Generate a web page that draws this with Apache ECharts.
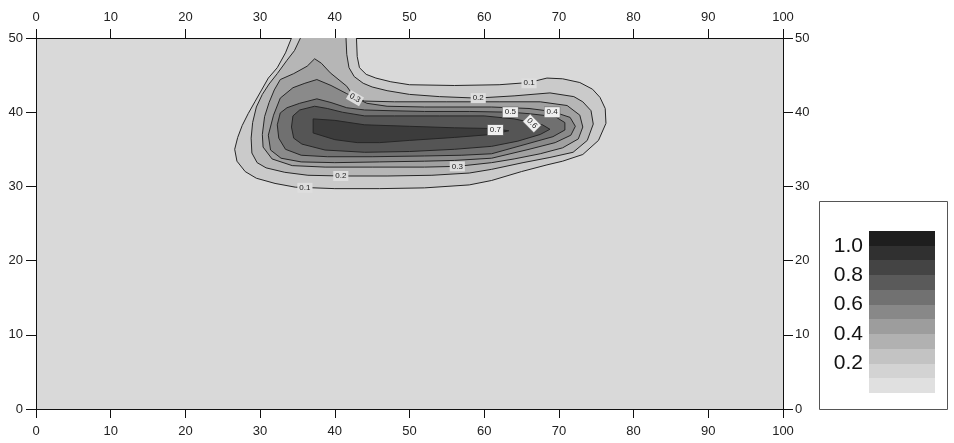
<!DOCTYPE html>
<html><head><meta charset="utf-8">
<script src="https://cdn.jsdelivr.net/npm/echarts@6/dist/echarts.min.js"></script>
<style>html,body{margin:0;padding:0;background:#fff}#c{width:954px;height:443px}</style>
</head><body><div id="c"></div>
<script>
// ---------- data ----------
const xTicks = [0,10,20,30,40,50,60,70,80,90,100];
const yTicks = [0,10,20,30,40,50];
const contourLevels = [0.1,0.2,0.3,0.4,0.5,0.6,0.7];

const contour01 = [[34.2,50],[33.4,48],[32.3,46],[31.1,44.6],[30.2,43],[29.3,41.4],[28.4,39.8],[27.6,38.2],[27.0,36.6],[26.6,35.0],[26.9,33.4],[28.0,32.0],[29.5,31.1],[32,30.4],[34.7,29.9],[40,29.7],[46,29.7],[52,29.8],[58,30.2],[61,30.8],[65,32.0],[68.4,32.9],[70.5,33.4],[73.2,34.3],[75.3,36.2],[76.3,38.5],[76.2,40.5],[75.5,42],[74.5,43.1],[72.8,44.0],[70.5,44.5],[68.4,44.6],[66,44.0],[62,43.7],[56,43.6],[50,43.7],[47.5,44.1],[45.5,44.6],[44.2,45.1],[43.3,46.0],[43.0,47.5],[42.9,50]];
const contour02 = [[35.4,50],[34.6,48.3],[33.6,47],[32.3,45.2],[31.2,43.8],[30.3,42.4],[29.5,40.7],[29.0,38.6],[28.8,36.5],[28.9,34.5],[29.6,33.2],[30.8,32.5],[33.3,31.9],[36.4,31.5],[41,31.4],[47,31.4],[53,31.5],[58,31.8],[61,32.3],[65.2,33.2],[68.8,33.9],[71.9,34.6],[73.8,36.2],[74.6,38.4],[74.3,40.2],[73.2,41.4],[72,42.1],[68.8,42.6],[64,42.2],[59,41.9],[54,42.1],[50,42.4],[47,42.9],[45,43.4],[43.8,43.9],[42.6,44.8],[41.9,46],[41.6,47.8],[41.5,50]];
const contour03 = [[37.3,47.2],[36.3,46.2],[34.5,45.2],[32.7,44.4],[31.9,43.0],[31.2,41.3],[30.6,39.4],[30.3,37.0],[30.4,35.3],[31.6,33.7],[34.3,32.8],[38.7,32.6],[45,32.6],[52,32.6],[56.4,32.7],[61,33.2],[64,33.7],[67.5,34.4],[70.5,35.2],[72.6,36.4],[73.2,38.0],[72.8,39.6],[71.1,40.9],[67.5,41.4],[62,41.4],[55,41.4],[48,41.4],[44,41.5],[42.7,41.9],[41.6,43.5],[39.4,45.3],[38.2,46.6]];
const contour04 = [[37.6,44.4],[36,43.9],[34.4,43.3],[32.7,41.9],[31.8,39.6],[31.1,36.9],[31.4,34.9],[32.8,33.8],[35.5,33.3],[40,33.2],[46,33.3],[52,33.4],[56,33.5],[61,33.8],[66,35.0],[69.5,35.9],[71.6,36.9],[72.2,38.1],[71.5,39.3],[69.1,40.1],[66,40.5],[61,40.7],[52,40.7],[47,40.8],[44.3,41.2],[41.6,42.5],[39.5,43.6]];
const contour05 = [[37.6,41.8],[35.3,41.2],[33.6,40.6],[32.7,39.9],[32.3,38.3],[32.5,36.5],[33.4,35.0],[35.5,34.2],[39,34.0],[45,34.0],[52,34.1],[57,34.2],[61,34.4],[66,35.8],[69.2,36.7],[70.8,37.6],[70.8,38.6],[69.5,39.4],[66,39.8],[63.5,40.0],[58,40.1],[52,40.1],[47.4,40.2],[44,40.3],[41.6,40.6],[39.5,41.3]];
const contour06 = [[37.3,40.8],[35.3,40.3],[34.4,39.5],[34.2,38.0],[34.5,36.5],[35.6,35.7],[38.7,34.9],[44,34.6],[50,34.7],[56,35.0],[61,35.4],[64.5,36.1],[67.5,37.0],[68.8,37.7],[67.8,38.3],[66.4,38.6],[64,39.1],[60,39.5],[54,39.5],[48,39.5],[44,39.5],[41,40.0],[39,40.5]];
const contour07 = [[37.1,39.1],[40,38.9],[44,38.3],[50,38.1],[56,37.9],[61,37.8],[63.3,37.5],[61,37.0],[56,36.6],[50,36.2],[46,35.9],[43,35.9],[40,36.3],[37.1,37.2]];
const contours = [contour01,contour02,contour03,contour04,contour05,contour06,contour07];

const contourLabelText = ['0.1','0.1','0.2','0.2','0.3','0.3','0.4','0.5','0.6','0.7'];
const contourLabelX = [36.0,66.0,40.8,59.2,42.7,56.4,69.1,63.5,66.4,61.5];
const contourLabelY = [29.8,43.9,31.4,41.9,41.9,32.7,40.0,40.0,38.5,37.6];
const contourLabelAngle = [0,0,0,0,-30,0,0,0,-45,0];

const legendLevels = [0,0.1,0.2,0.3,0.4,0.5,0.6,0.7,0.8,0.9,1.0];
const legendTop = 1.1;
const legendTicks = [0.2,0.4,0.6,0.8,1.0];

// ---------- styles ----------
const bandColors = ['#d9d9d9','#cacaca','#b6b6b6','#a1a1a1','#8a8a8a','#707070','#555555','#3c3c3c','#333333','#262626','#1a1a1a'];
const legendColors = ['#e0e0e0','#d3d3d3','#c3c3c3','#b1b1b1','#9d9d9d','#888888','#717171','#5a5a5a','#444444','#303030','#1e1e1e'];
const FONT = '"Liberation Sans", Arial, Helvetica, sans-serif';
const axisCommon = {
  type:'value', gridIndex:0,
  axisLine:{show:true,onZero:false,lineStyle:{color:'#111',width:1}},
  axisTick:{show:true,inside:false,length:9,lineStyle:{color:'#111',width:1}},
  splitLine:{show:false},
  axisLabel:{fontSize:13,color:'#222',fontFamily:FONT}
};
function ax(extra, labelExtra){
  const o = JSON.parse(JSON.stringify(axisCommon));
  Object.assign(o, extra);
  Object.assign(o.axisLabel, labelExtra||{});
  return o;
}

const chart = echarts.init(document.getElementById('c'), null, {renderer:'canvas'});
chart.setOption({
  animation:false,
  backgroundColor:'#ffffff',
  grid:[
    {left:36,right:171,top:38,bottom:34,show:true,backgroundColor:bandColors[0],borderWidth:0,containLabel:false,outerBoundsMode:'none'},
    {left:869,top:231,width:66,height:162,show:false,containLabel:false,outerBoundsMode:'none'}
  ],
  graphic:[
    {type:'rect',left:819,top:201,z:0,shape:{width:128,height:208},style:{fill:'#fff',stroke:'#555',lineWidth:1}}
  ],
  xAxis:[
    ax({position:'bottom',min:xTicks[0],max:xTicks[xTicks.length-1],interval:10},{margin:16}),
    ax({position:'top',min:xTicks[0],max:xTicks[xTicks.length-1],interval:10},{margin:14}),
    {type:'value',gridIndex:1,min:0,max:1,show:false}
  ],
  yAxis:[
    ax({position:'left',min:yTicks[0],max:yTicks[yTicks.length-1],interval:10,axisTick:{show:true,inside:false,length:10,lineStyle:{color:'#111',width:1}}},{margin:13}),
    ax({position:'right',min:yTicks[0],max:yTicks[yTicks.length-1],interval:10,axisTick:{show:true,inside:false,length:10,lineStyle:{color:'#111',width:1}}},{margin:12}),
    {type:'value',gridIndex:1,min:0,max:legendTop,interval:0.2,
     axisLine:{show:false},axisTick:{show:false},splitLine:{show:false},
     axisLabel:{show:true,fontSize:21,color:'#111',fontFamily:FONT,margin:6,showMaxLabel:false,
       formatter:function(v){ return legendTicks.some(t=>Math.abs(t-v)<1e-6) ? v.toFixed(1) : ''; }}}
  ],
  series:[
    {
      type:'custom', xAxisIndex:0, yAxisIndex:0, z:2,
      data: contourLevels.map(v=>({value:[0,0,v]})),
      renderItem:function(params, api){
        const c = contours[params.dataIndex];
        const pts = c.map(p=>api.coord(p));
        const open = c[0][1]===50 && c[c.length-1][1]===50;
        return {type:'group',children:[
          {type:'polygon',shape:{points:pts},style:{fill:bandColors[params.dataIndex+1]}},
          {type:'polyline',shape:{points: open ? pts : pts.concat([pts[0]])},style:{stroke:'#262626',lineWidth:1,fill:null}}
        ]};
      }
    },
    {
      type:'custom', xAxisIndex:0, yAxisIndex:0, z:5,
      data: contourLabelText.map((t,i)=>({value:[contourLabelX[i],contourLabelY[i]]})),
      renderItem:function(params, api){
        const i = params.dataIndex;
        const p = api.coord([contourLabelX[i],contourLabelY[i]]);
        const boxed = parseFloat(contourLabelText[i])>=0.4;
        return {type:'text',x:p[0],y:p[1],rotation:contourLabelAngle[i]*Math.PI/180,
          style:{text:contourLabelText[i],fontSize:8,fontFamily:FONT,fill:'#222',align:'center',verticalAlign:'middle',
            backgroundColor: boxed ? '#f0f0f0' : '#dedede',padding:[1,2],
            borderColor: boxed ? '#777' : null, borderWidth: boxed ? 0.6 : 0}};
      }
    },
    {
      type:'custom', xAxisIndex:2, yAxisIndex:2, z:3,
      data: legendLevels.map(v=>({value:[0,v]})),
      renderItem:function(params, api){
        // each band spans from its lower level up to the bar top; later (higher) bands overlay it
        const lo = legendLevels[params.dataIndex];
        const a = api.coord([0,lo]);
        const b = api.coord([1,legendTop]);
        const x0 = Math.round(a[0]), x1 = Math.round(b[0]);
        const y0 = Math.round(b[1]), y1 = Math.round(a[1]);
        return {type:'rect',shape:{x:x0,y:y0,width:x1-x0,height:y1-y0},
          style:{fill:legendColors[params.dataIndex],stroke:null,lineWidth:0}};
      }
    }
  ]
});
</script>
</body></html>
